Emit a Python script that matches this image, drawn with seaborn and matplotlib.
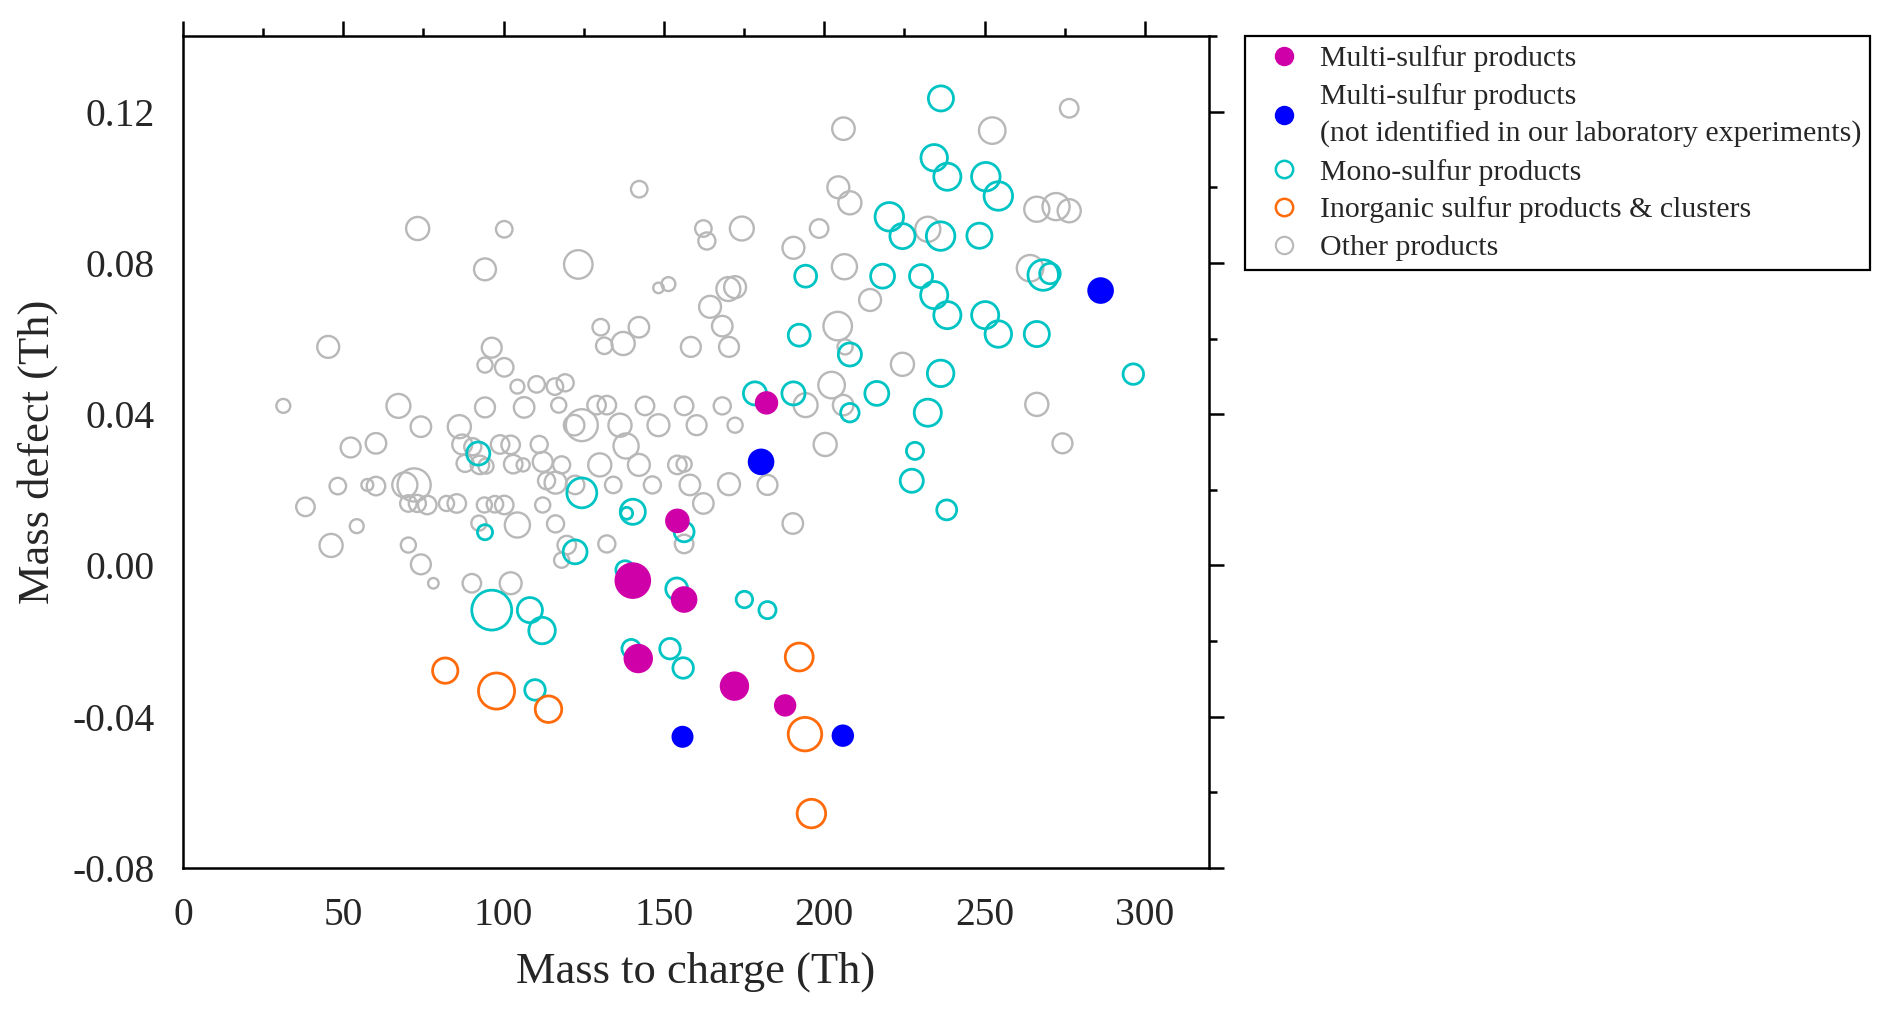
import numpy as np
import pandas as pd
import matplotlib
matplotlib.use("Agg")
import matplotlib.pyplot as plt
from matplotlib.lines import Line2D
from matplotlib.ticker import MultipleLocator
import seaborn as sns

# values: m/z (Th), mass defect (Th), marker radius (px)
other_mz = [73.2, 100.2, 94.2, 45.3, 96.3, 94.2, 100.2, 104.3, 110.3, 116.0, 119.2,
            31.3, 67.2, 74.2, 86.2, 94.2, 106.4, 117.2, 52.3, 60.2, 87.1, 90.4, 98.9,
            102.2, 111.1, 88.0, 92.6, 94.5, 103.0, 106.1, 112.2, 118.1, 113.4, 116.2,
            48.3, 57.5, 60.2, 69.2, 72.1, 70.3, 73.1, 76.2, 82.2, 85.4, 38.2, 54.2,
            46.2, 70.3, 74.2, 78.1, 90.1, 102.2, 94.0, 97.3, 100.2, 92.3, 104.3, 112.2,
            116.2, 118.1, 119.7,
            142.3, 204.4, 208.0, 162.3, 163.4, 174.3, 198.4, 190.4, 123.3, 206.3, 148.3,
            151.4, 170.1, 172.2, 164.4, 130.3, 142.2, 168.2, 204.2, 131.4, 137.3, 158.4,
            170.3, 206.5, 202.3,
            129.0, 132.2, 144.1, 156.3, 168.2, 194.2, 205.9, 122.0, 124.4, 136.3, 148.3,
            160.2, 172.2, 138.2, 200.3, 130.0, 142.2, 154.2, 156.3, 122.3, 134.2, 146.4,
            158.1, 170.3, 182.3, 162.3, 156.3, 190.2, 132.2,
            206.0, 276.4, 252.4, 266.3, 272.3, 276.4, 232.3, 264.2, 214.3, 224.4, 266.3,
            274.3]
other_md = [0.0891, 0.0889, 0.0783, 0.0578, 0.0576, 0.0530, 0.0524, 0.0473, 0.0479, 0.0473, 0.0483,
            0.0422, 0.0422, 0.0367, 0.0367, 0.0418, 0.0418, 0.0424, 0.0312, 0.0323, 0.0320, 0.0314, 0.0320,
            0.0319, 0.0320, 0.0270, 0.0266, 0.0263, 0.0268, 0.0266, 0.0274, 0.0266, 0.0224, 0.0219,
            0.0210, 0.0213, 0.0210, 0.0213, 0.0213, 0.0164, 0.0164, 0.0160, 0.0164, 0.0164, 0.0155, 0.0104,
            0.0053, 0.0054, 0.0003, -0.0047, -0.0047, -0.0047, 0.0160, 0.0162, 0.0160, 0.0112, 0.0107, 0.0160,
            0.0110, 0.0014, 0.0054,
            0.0995, 0.1000, 0.0959, 0.0891, 0.0858, 0.0891, 0.0891, 0.0840, 0.0796, 0.0790, 0.0734,
            0.0744, 0.0731, 0.0736, 0.0684, 0.0630, 0.0630, 0.0633, 0.0633, 0.0581, 0.0587, 0.0578,
            0.0578, 0.0578, 0.0477,
            0.0424, 0.0424, 0.0422, 0.0422, 0.0422, 0.0424, 0.0424, 0.0371, 0.0371, 0.0371, 0.0371,
            0.0371, 0.0371, 0.0316, 0.0320, 0.0266, 0.0266, 0.0266, 0.0268, 0.0213, 0.0213, 0.0213,
            0.0213, 0.0215, 0.0213, 0.0164, 0.0057, 0.0111, 0.0057,
            0.1155, 0.1209, 0.1150, 0.0942, 0.0949, 0.0938, 0.0889, 0.0786, 0.0702, 0.0532, 0.0426,
            0.0323]
other_r = [12.3, 9, 11.7, 11.7, 10.7, 8.3, 10, 7.7, 9, 9, 9.3,
           7.7, 12.7, 11, 12.3, 10.7, 11, 8.3, 10.7, 11, 10.7, 9.3, 10,
           10, 9.3, 9.3, 10, 8.3, 10, 7.3, 10.7, 9.3, 9.3, 11.7,
           9, 6.7, 10, 13.3, 17.3, 9, 9.3, 10, 8.3, 10, 10, 7.7,
           12.3, 8.3, 10.7, 6, 10, 11.7, 8.3, 9, 10, 8.3, 13.3, 8.3,
           9.3, 8.3, 10,
           9, 11.7, 12.3, 9, 9.3, 12.7, 10, 11.7, 15, 13.3, 6,
           7.7, 12.7, 11.7, 11.7, 9, 11, 11, 15, 9, 12.3, 10.7,
           10.7, 8.3, 14,
           10, 10, 10, 10, 9.3, 12.7, 11, 11, 16.7, 12.3, 11.7,
           10.7, 8.3, 13.3, 12.3, 12.3, 11.7, 10, 8.3, 10, 9, 9.3,
           11, 11.7, 10.7, 11, 10, 11, 9.3,
           12, 10, 14, 13.3, 14.3, 12.3, 13.3, 14, 11.7, 12.3, 12.3,
           10.7]

mono_mz = [236.4, 234.3, 238.4, 250.4, 254.3, 220.3, 224.4, 236.3, 248.4, 268.3, 270.4,
           218.2, 230.2, 234.3, 238.4, 250.2, 254.3, 266.3, 194.2, 192.2, 208.0, 236.3,
           296.4, 216.4, 232.3, 208.0, 228.3, 227.3, 238.2, 178.4, 190.4, 92.1, 94.2,
           124.4, 122.3, 140.3, 138.4, 156.3, 137.9, 154.0, 175.1, 182.3, 96.3, 108.2,
           112.0, 139.8, 151.9, 156.0, 109.8]
mono_md = [0.1235, 0.1078, 0.1028, 0.1028, 0.0977, 0.0922, 0.0871, 0.0871, 0.0872, 0.0768, 0.0772,
           0.0765, 0.0765, 0.0715, 0.0662, 0.0662, 0.0612, 0.0612, 0.0765, 0.0609, 0.0558, 0.0508,
           0.0506, 0.0455, 0.0404, 0.0404, 0.0303, 0.0224, 0.0147, 0.0455, 0.0455, 0.0296, 0.0088,
           0.0192, 0.0036, 0.0142, 0.0138, 0.0089, -0.0012, -0.0062, -0.0090, -0.0118, -0.0118, -0.0118,
           -0.0172, -0.0220, -0.0220, -0.0271, -0.0329]
mono_r = [13.3, 14, 14.3, 15, 15, 15, 13.3, 15, 13.3, 16, 11,
          12.7, 12.3, 14.3, 14.3, 14.3, 14, 13.3, 11.7, 11.7, 12.3, 14,
          11, 12.7, 14.3, 10, 9.3, 12.3, 10.7, 12.3, 12.3, 12.3, 8.3,
          15.7, 12.7, 13.3, 6.7, 10.7, 10, 11.7, 9, 9.3, 20.7, 13.3,
          14, 10, 11, 11, 11]

inorg_mz = [81.8, 97.8, 114.0, 192.2, 194.0, 196.0]
inorg_md = [-0.0278, -0.0332, -0.0380, -0.0242, -0.0446, -0.0656]
inorg_r = [13.4, 18.8, 14, 14.7, 17.5, 15]

multi_mz = [182.0, 154.2, 140.3, 156.3, 142.0, 172.0, 187.8]
multi_md = [0.0430, 0.0118, -0.0040, -0.0090, -0.0246, -0.0319, -0.0370]
multi_r = [11.7, 12.3, 18.3, 13.3, 14.7, 14.7, 11.2]

multi_new_mz = [286.2, 180.3, 155.8, 205.8]
multi_new_md = [0.0727, 0.0274, -0.0453, -0.0450]
multi_new_r = [13.3, 13.3, 11, 11.2]

labels = ["Multi-sulfur products",
          "Multi-sulfur products\n(not identified in our laboratory experiments)",
          "Mono-sulfur products",
          "Inorganic sulfur products & clusters",
          "Other products"]
colors = {"multi": "#D000A8", "multi_new": "#0000FF", "mono": "#00C4C4",
          "inorg": "#FF6A0A", "other": "#B8B8B8"}

DPI = 100


def area(r, filled):
    # marker radius in pixels -> scatter area in points^2
    d = 2 * np.asarray(r) - (0 if filled else 1.5)
    return (d * 72 / DPI) ** 2


sns.set_theme(style="white")
plt.rcParams["font.family"] = ["Liberation Serif", "DejaVu Serif"]

fig = plt.figure(figsize=(18.92, 10.15), dpi=DPI)
ax = fig.add_axes([0.0967, 0.1448, 0.5423, 0.8197])

groups = [
    ("other", other_mz, other_md, other_r, False, 1.7),
    ("mono", mono_mz, mono_md, mono_r, False, 2.0),
    ("inorg", inorg_mz, inorg_md, inorg_r, False, 2.0),
    ("multi", multi_mz, multi_md, multi_r, True, 0),
    ("multi_new", multi_new_mz, multi_new_md, multi_new_r, True, 0),
]
for key, mz, md, r, filled, lw in groups:
    df = pd.DataFrame({"mz": mz, "md": md, "r": r})
    c = colors[key]
    if filled:
        sns.scatterplot(data=df, x="mz", y="md", ax=ax, s=area(df["r"], True),
                        color=c, edgecolor="none", linewidth=0, legend=False, zorder=3)
    else:
        sns.scatterplot(data=df, x="mz", y="md", ax=ax, s=area(df["r"], False),
                        facecolor="none", edgecolor=c, linewidth=lw, legend=False, zorder=2)

ax.set_xlim(0, 320)
ax.set_ylim(-0.08, 0.14)
ax.xaxis.set_major_locator(MultipleLocator(50))
ax.xaxis.set_minor_locator(MultipleLocator(25))
ax.yaxis.set_minor_locator(MultipleLocator(0.02))
ax.set_yticks([-0.08, -0.04, 0.0, 0.04, 0.08, 0.12])
ax.set_yticklabels(["-0.08", "-0.04", "0.00", "0.04", "0.08", "0.12"])

for sp in ax.spines.values():
    sp.set_linewidth(1.8)
    sp.set_color("black")
ax.tick_params(which="both", direction="out", top=True, right=True,
               labeltop=False, labelright=False, color="black", width=1.8)
ax.tick_params(which="major", length=11, labelsize=28.5, pad=9.5)
ax.tick_params(which="minor", length=5.5)

ax.set_xlabel("Mass to charge (Th)", fontsize=32, labelpad=13)
ax.set_ylabel("Mass defect (Th)", fontsize=32, labelpad=10)

handles = [
    Line2D([], [], ls="none", marker="o", ms=14, mfc=colors["multi"], mec="none"),
    Line2D([], [], ls="none", marker="o", ms=14, mfc=colors["multi_new"], mec="none"),
    Line2D([], [], ls="none", marker="o", ms=12.5, mfc="none", mec=colors["mono"], mew=1.8),
    Line2D([], [], ls="none", marker="o", ms=12.5, mfc="none", mec=colors["inorg"], mew=1.8),
    Line2D([], [], ls="none", marker="o", ms=12.5, mfc="none", mec=colors["other"], mew=1.5),
]
leg = fig.legend(handles, labels, loc="upper left", bbox_to_anchor=(0.658, 0.9645),
                 fontsize=21.5, frameon=True, fancybox=False, borderpad=0.3,
                 labelspacing=0.36, handlelength=2.0, handletextpad=0.2,
                 borderaxespad=0, framealpha=1)
for t in leg.get_texts():
    t.set_linespacing(1.52)
leg.get_frame().set_edgecolor("black")
leg.get_frame().set_linewidth(1.6)

fig.savefig("out.png", dpi=DPI)
